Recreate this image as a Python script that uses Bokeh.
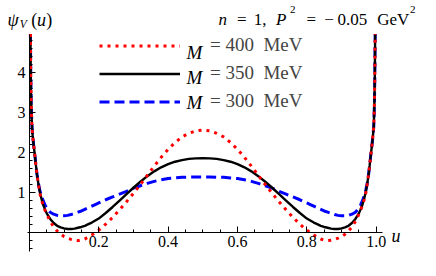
from bokeh.plotting import figure
from bokeh.models import (Range1d, LinearAxis, FixedTicker, NumeralTickFormatter,
                          Label, Legend, LegendItem)
from bokeh.embed import file_html
from bokeh.resources import INLINE

# ---- data ----
u = [0.003, 0.004, 0.005, 0.006, 0.0075, 0.009, 0.011, 0.013, 0.016, 0.019, 0.022, 0.026,
     0.03, 0.035, 0.04, 0.045, 0.05,
     0.06, 0.07, 0.08, 0.09, 0.10, 0.11, 0.12, 0.13, 0.14, 0.15, 0.16, 0.17, 0.18, 0.19, 0.20,
     0.22, 0.24, 0.26, 0.28, 0.30, 0.32, 0.34, 0.36, 0.38, 0.40, 0.42, 0.44, 0.46, 0.48, 0.50,
     0.52, 0.54, 0.56, 0.58, 0.60, 0.62, 0.64, 0.66, 0.68, 0.70, 0.72, 0.74, 0.76, 0.78, 0.80,
     0.81, 0.82, 0.83, 0.84, 0.85, 0.86, 0.87, 0.88, 0.89, 0.90, 0.91, 0.92, 0.93, 0.94, 0.95,
     0.955, 0.96, 0.965, 0.97,
     0.974, 0.978, 0.981, 0.984, 0.987, 0.989, 0.991, 0.993, 0.994, 0.995, 0.996, 0.997]

psi_M400 = [4.95, 3.9, 3.3, 2.95, 2.65, 2.45, 2.28, 2.12, 1.9, 1.66, 1.44, 1.2,
            0.98, 0.80, 0.66, 0.55, 0.45,
            0.27, 0.13, 0.03, -0.05, -0.11, -0.15, -0.18, -0.20, -0.21, -0.20, -0.17, -0.12, -0.07, -0.01, 0.05,
            0.20, 0.37, 0.56, 0.76, 0.97, 1.19, 1.42, 1.65, 1.87, 2.07, 2.24, 2.38, 2.47, 2.53, 2.55,
            2.53, 2.47, 2.38, 2.24, 2.07, 1.87, 1.65, 1.42, 1.19, 0.97, 0.76, 0.56, 0.37, 0.20, 0.05,
            -0.01, -0.07, -0.12, -0.17, -0.20, -0.21, -0.20, -0.18, -0.15, -0.11, -0.05, 0.03, 0.13, 0.27, 0.45,
            0.55, 0.66, 0.80, 0.98,
            1.2, 1.44, 1.66, 1.9, 2.12, 2.28, 2.45, 2.65, 2.95, 3.3, 3.9, 4.95]

psi_M350 = [4.95, 3.9, 3.3, 2.95, 2.65, 2.45, 2.28, 2.12, 1.9, 1.66, 1.44, 1.2,
            1.01, 0.83, 0.68, 0.57, 0.47,
            0.33, 0.23, 0.16, 0.12, 0.095, 0.08, 0.08, 0.09, 0.11, 0.13, 0.16, 0.20, 0.24, 0.29, 0.34,
            0.48, 0.63, 0.79, 0.95, 1.11, 1.26, 1.40, 1.52, 1.62, 1.70, 1.76, 1.80, 1.83, 1.845, 1.85,
            1.845, 1.83, 1.80, 1.76, 1.70, 1.62, 1.52, 1.40, 1.26, 1.11, 0.95, 0.79, 0.63, 0.48, 0.34,
            0.29, 0.24, 0.20, 0.16, 0.13, 0.11, 0.09, 0.08, 0.08, 0.095, 0.12, 0.16, 0.23, 0.33, 0.47,
            0.57, 0.68, 0.83, 1.01,
            1.2, 1.44, 1.66, 1.9, 2.12, 2.28, 2.45, 2.65, 2.95, 3.3, 3.9, 4.95]

psi_M300 = [4.95, 3.9, 3.3, 2.95, 2.65, 2.45, 2.28, 2.12, 1.9, 1.66, 1.44, 1.22,
            1.05, 0.90, 0.78, 0.68, 0.60,
            0.50, 0.45, 0.42, 0.41, 0.41, 0.42, 0.44, 0.47, 0.50, 0.53, 0.57, 0.61, 0.65, 0.69, 0.73,
            0.81, 0.88, 0.95, 1.02, 1.10, 1.16, 1.22, 1.27, 1.31, 1.34, 1.355, 1.37, 1.375, 1.38, 1.38,
            1.38, 1.375, 1.37, 1.355, 1.34, 1.31, 1.27, 1.22, 1.16, 1.10, 1.02, 0.95, 0.88, 0.81, 0.73,
            0.69, 0.65, 0.61, 0.57, 0.53, 0.50, 0.47, 0.44, 0.42, 0.41, 0.41, 0.42, 0.45, 0.50, 0.60,
            0.68, 0.78, 0.90, 1.05,
            1.22, 1.44, 1.66, 1.9, 2.12, 2.28, 2.45, 2.65, 2.95, 3.3, 3.9, 4.95]

legend_labels = ["= 400  MeV", "= 350  MeV", "= 300  MeV"]
x_major = [0.2, 0.4, 0.6, 0.8, 1.0]
x_minor = [0.05, 0.1, 0.15, 0.25, 0.3, 0.35, 0.45, 0.5, 0.55, 0.65, 0.7, 0.75, 0.85, 0.9, 0.95]
y_major = [1, 2, 3, 4]
y_minor = [-0.4, -0.2, 0.2, 0.4, 0.6, 0.8, 1.2, 1.4, 1.6, 1.8, 2.2, 2.4, 2.6, 2.8,
           3.2, 3.4, 3.6, 3.8, 4.2, 4.4, 4.6, 4.8]

SERIF = "Liberation Serif"

p = figure(width=420, height=260, x_range=Range1d(-0.0833, 1.1277),
           y_range=Range1d(-0.707, 5.787), x_axis_location=None, y_axis_location=None,
           toolbar_location=None, output_backend="svg", min_border=0)
p.outline_line_color = None
p.grid.visible = False
p.background_fill_color = "white"

xaxis = LinearAxis(fixed_location=0, bounds=(-0.005, 1.017),
                   ticker=FixedTicker(ticks=x_major, minor_ticks=x_minor),
                   formatter=NumeralTickFormatter(format="0.0"))
yaxis = LinearAxis(fixed_location=0, bounds=(-0.47, 4.95),
                   ticker=FixedTicker(ticks=y_major, minor_ticks=y_minor),
                   formatter=NumeralTickFormatter(format="0"))
for ax in (xaxis, yaxis):
    ax.axis_line_color = "black"
    ax.axis_line_width = 1
    ax.major_tick_line_color = "black"
    ax.minor_tick_line_color = "black"
    ax.major_tick_in = 6
    ax.major_tick_out = 0
    ax.minor_tick_in = 3
    ax.minor_tick_out = 0
    ax.major_label_text_font = SERIF
    ax.major_label_text_font_size = "16px"
    ax.major_label_text_font_style = "normal"
    ax.major_label_text_color = "black"
xaxis.major_label_standoff = 4
yaxis.major_label_standoff = 4
p.add_layout(xaxis, "below")
p.add_layout(yaxis, "left")

r_blue = p.line(u, psi_M300, line_color="#0000ff", line_width=3, line_dash="10 5")
r_black = p.line(u, psi_M350, line_color="black", line_width=2.4)
r_red = p.line(u, psi_M400, line_color="#ff0000", line_width=3, line_dash="3 5")

legend = Legend(items=[LegendItem(label=legend_labels[0], renderers=[r_red]),
                       LegendItem(label=legend_labels[1], renderers=[r_black]),
                       LegendItem(label=legend_labels[2], renderers=[r_blue])],
                location=(99, 148), glyph_width=81, glyph_height=19, label_height=19,
                label_standoff=30, spacing=6, padding=0, margin=0,
                border_line_color=None, background_fill_alpha=0,
                label_text_font=SERIF, label_text_font_size="19px")
p.add_layout(legend)


def lab(x, y, text, size, italic=False, baseline="alphabetic", align="left"):
    p.add_layout(Label(x=x, y=y, text=text, text_font=SERIF, text_font_size=size,
                       text_font_style="italic" if italic else "normal",
                       text_baseline=baseline, text_align=align, text_color="black"))


# legend "M"
for yy in (4.478, 3.852, 3.228):
    lab(0.4528, yy, "M", "19px", italic=True, baseline="middle")

# y-axis label  psi_V(u)
lab(-0.063, 5.294, "ψ", "18px", italic=True)
lab(-0.0278, 5.20, "V", "11.5px", italic=True)
lab(0.0056, 5.294, "(", "18px")
lab(0.0222, 5.294, "u", "18px", italic=True)
lab(0.0486, 5.294, ")", "18px")

# x-axis label u
lab(1.0444, -0.087, "u", "18px", italic=True)

# title  n = 1,  P^2 = -0.05 GeV^2
ty = 5.301
sy = 5.553
lab(0.5453, ty, "n", "17px", italic=True)
lab(0.6125, ty, "=", "17px", align="center")
lab(0.6472, ty, "1,", "17px")
lab(0.7111, ty, "P", "17px", italic=True)
lab(0.7514, sy, "2", "11px")
lab(0.8125, ty, "=", "17px", align="center")
lab(0.8639, ty, "−", "17px", align="center")
lab(0.8881, ty, "0.05", "17px")
lab(1.0028, ty, "GeV", "17px")
lab(1.0972, sy, "2", "11px")

open("out.html", "w").write(file_html(p, INLINE))
